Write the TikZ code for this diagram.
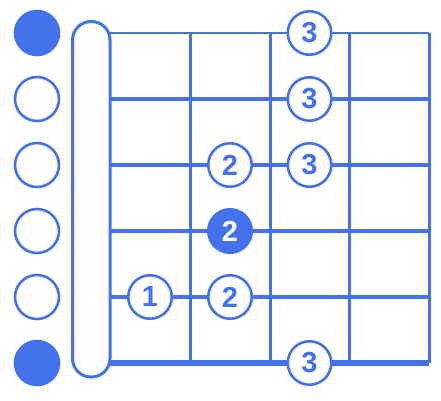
\documentclass[tikz,border=0pt]{standalone}
\usepackage{fontspec}
\setmainfont{Liberation Sans}
\usetikzlibrary{positioning}
\definecolor{chordblue}{RGB}{68,114,236}

\begin{document}
\begin{tikzpicture}[x=1pt,y=-1pt,
  finger/.style={circle,draw=chordblue,line width=2.6pt,fill=white,
    minimum size=43.5pt,inner sep=0pt,text=chordblue,
    font=\bfseries\fontsize{29}{29}\selectfont},
  barre/.style={finger,fill=chordblue,text=white},
  openstr/.style={circle,draw=chordblue,line width=2.6pt,fill=white,
    minimum size=44pt,inner sep=0pt},
  mutestr/.style={openstr,fill=chordblue},
  fret/.style={draw=chordblue,line width=3pt}]
  \useasboundingbox (0,0) rectangle (441,400);

  % nut
  \draw[fret,rounded corners=18.5pt] (72.5,21.5) rectangle (110,377);

  % strings, thin to thick
  \foreach \s/\w in {0/2.8,1/3.1,2/3.5,3/4.2,4/4.9,5/5.7}
    \draw[chordblue,line width=\w pt] (110,33+66*\s) -- (429,33+66*\s);

  % frets
  \foreach \f in {190,270,349,429}
    \draw[fret] (\f,33) -- (\f,363);

  % open / muted strings
  \node[mutestr] (s1) at (37,33) {};
  \node[openstr] (s2) at (37,99) {};
  \node[openstr] (s3) at (37,165) {};
  \node[openstr] (s4) at (37,231) {};
  \node[openstr] (s5) at (37,297) {};
  \node[mutestr] (s6) at (37,363) {};

  % fingers
  \node[finger] (f13) at (309.5,33) {3};
  \node[finger] (f23) at (309.5,99) {3};
  \node[finger] (f32) at (230,165) {2};
  \node[finger] (f33) at (309.5,165) {3};
  \node[barre] (f42) at (230,231) {2};
  \node[finger] (f51) at (150,297) {1};
  \node[finger] (f52) at (230,297) {2};
  \node[finger] (f63) at (309.5,363) {3};
\end{tikzpicture}
\end{document}
